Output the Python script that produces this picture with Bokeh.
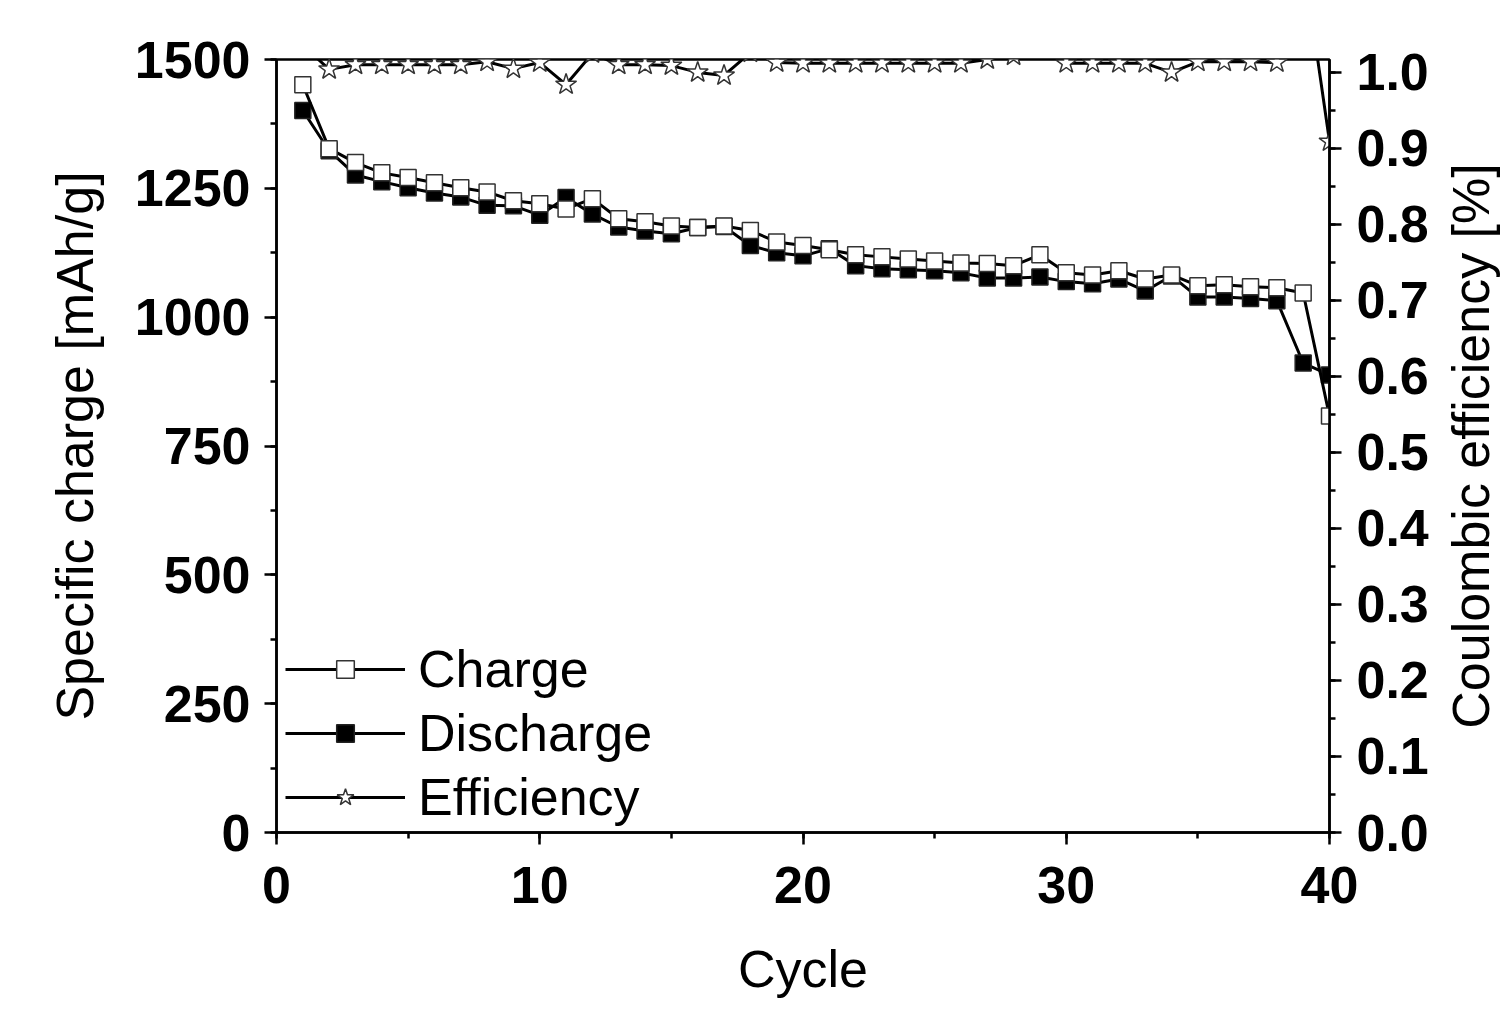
from bokeh.plotting import figure
from bokeh.layouts import row
from bokeh.models import (Range1d, LinearAxis, SingleIntervalTicker, PrintfTickFormatter,
                          Legend, LegendItem, FixedTicker)
from bokeh.embed import file_html
from bokeh.resources import INLINE

cycles = list(range(1, 41))
charge = [1451, 1327, 1300, 1280, 1271, 1261, 1251, 1243, 1226, 1220,
          1210, 1230, 1191, 1185, 1177, 1174, 1177, 1168, 1146, 1139,
          1131, 1121, 1117, 1113, 1109, 1105, 1104, 1100, 1121, 1086,
          1082, 1090, 1074, 1082, 1061, 1063, 1059, 1057, 1047, 808]
discharge = [1401, 1323, 1276, 1263, 1251, 1241, 1233, 1217, 1216, 1198,
             1232, 1200, 1175, 1167, 1162, 1174, 1176, 1139, 1125, 1119,
             1133, 1100, 1094, 1092, 1090, 1086, 1076, 1076, 1078, 1069,
             1065, 1074, 1051, 1080, 1039, 1039, 1036, 1032, 911, 888]
efficiency = [1.036, 1.004, 1.010, 1.010, 1.010, 1.010, 1.010, 1.014, 1.005, 1.013,
              0.984, 1.025, 1.010, 1.010, 1.009, 1.000, 0.996, 1.026, 1.013, 1.012,
              1.012, 1.012, 1.012, 1.012, 1.012, 1.012, 1.017, 1.022, 1.040, 1.012,
              1.012, 1.012, 1.012, 1.000, 1.014, 1.014, 1.014, 1.013, 1.150, 0.909]

x_label = "Cycle"
y_label = "Specific charge [mAh/g]"
y2_label = "Coulombic efficiency [%]"

FONT = "Liberation Sans"

p = figure(width=1433, height=1015, x_range=Range1d(0, 40), y_range=Range1d(0, 1500),
           output_backend="svg", toolbar_location=None,
           min_border_left=276, min_border_right=104, min_border_top=59, min_border_bottom=183,
           background_fill_color="white", border_fill_color="white")
p.extra_y_ranges = {"eff": Range1d(0, 1.017)}
p.xgrid.visible = False
p.ygrid.visible = False
p.outline_line_color = "black"
p.outline_line_width = 2.5
p.outline_line_alpha = 1.0

left = p.yaxis[0]
bottom = p.xaxis[0]
bottom.ticker = SingleIntervalTicker(interval=10, num_minor_ticks=2)
left.ticker = SingleIntervalTicker(interval=250, num_minor_ticks=2)
bottom.axis_label = x_label
left.axis_label = y_label

right = LinearAxis(y_range_name="eff",
                   ticker=SingleIntervalTicker(interval=0.1, num_minor_ticks=2),
                   formatter=PrintfTickFormatter(format="%.1f"))
p.add_layout(right, "right")

for ax in [bottom, left, right]:
    ax.axis_line_width = 2.5
    ax.axis_line_color = "black"
    ax.major_tick_line_width = 2.5
    ax.minor_tick_line_width = 2.5
    ax.major_tick_line_color = "black"
    ax.minor_tick_line_color = "black"
    ax.major_tick_out = 12
    ax.major_tick_in = 0
    ax.minor_tick_out = 6
    ax.minor_tick_in = 0
    ax.major_label_text_font = FONT
    ax.major_label_text_font_style = "bold"
    ax.major_label_text_font_size = "52px"
    ax.major_label_text_color = "black"
    ax.axis_label_text_font = FONT
    ax.axis_label_text_font_style = "normal"
    ax.axis_label_text_font_size = "52px"
    ax.axis_label_text_color = "black"

bottom.major_label_standoff = 22
bottom.axis_label_standoff = 34
left.major_label_standoff = 14
left.axis_label_standoff = 28
right.major_label_standoff = 15

# discharge
dl = p.line(cycles, discharge, line_color="black", line_width=3)
ds = p.scatter(cycles, discharge, marker="square", size=16, fill_color="black",
               line_color="#222222", line_width=1.5)
# charge
cl = p.line(cycles, charge, line_color="black", line_width=3)
cs = p.scatter(cycles, charge, marker="square", size=16, fill_color="white",
               line_color="#333333", line_width=1.5)
# efficiency
el = p.line(cycles, efficiency, line_color="black", line_width=3, y_range_name="eff")
es = p.scatter(cycles, efficiency, marker="star", size=22, fill_color="white",
               line_color="#333333", line_width=1.5, y_range_name="eff")

legend = Legend(items=[LegendItem(label="Charge", renderers=[cl, cs]),
                       LegendItem(label="Discharge", renderers=[dl, ds]),
                       LegendItem(label="Efficiency", renderers=[el, es])],
                location=(9, 5), glyph_width=120, glyph_height=44, label_height=60,
                label_standoff=13, spacing=4, padding=0, margin=0,
                border_line_color=None, background_fill_alpha=0,
                label_text_font=FONT, label_text_font_size="52px", label_text_color="black")
p.add_layout(legend)

# narrow companion figure that carries the right-hand title (reads bottom to top)
p2 = figure(width=70, height=1015, x_range=Range1d(0, 1), y_range=Range1d(0, 1.017),
            output_backend="svg", toolbar_location=None,
            min_border_left=66, min_border_right=0, min_border_top=59, min_border_bottom=183,
            background_fill_color="white", border_fill_color="white")
p2.xgrid.visible = False
p2.ygrid.visible = False
p2.outline_line_color = None
p2.xaxis.visible = False
ax2 = p2.yaxis[0]
ax2.ticker = FixedTicker(ticks=[])
ax2.axis_line_color = None
ax2.major_tick_line_color = None
ax2.minor_tick_line_color = None
ax2.axis_label = y2_label
ax2.axis_label_standoff = 0
ax2.axis_label_text_font = FONT
ax2.axis_label_text_font_style = "normal"
ax2.axis_label_text_font_size = "52px"
ax2.axis_label_text_color = "black"

layout = row(p, p2)
open("out.html", "w").write(file_html(layout, INLINE))
